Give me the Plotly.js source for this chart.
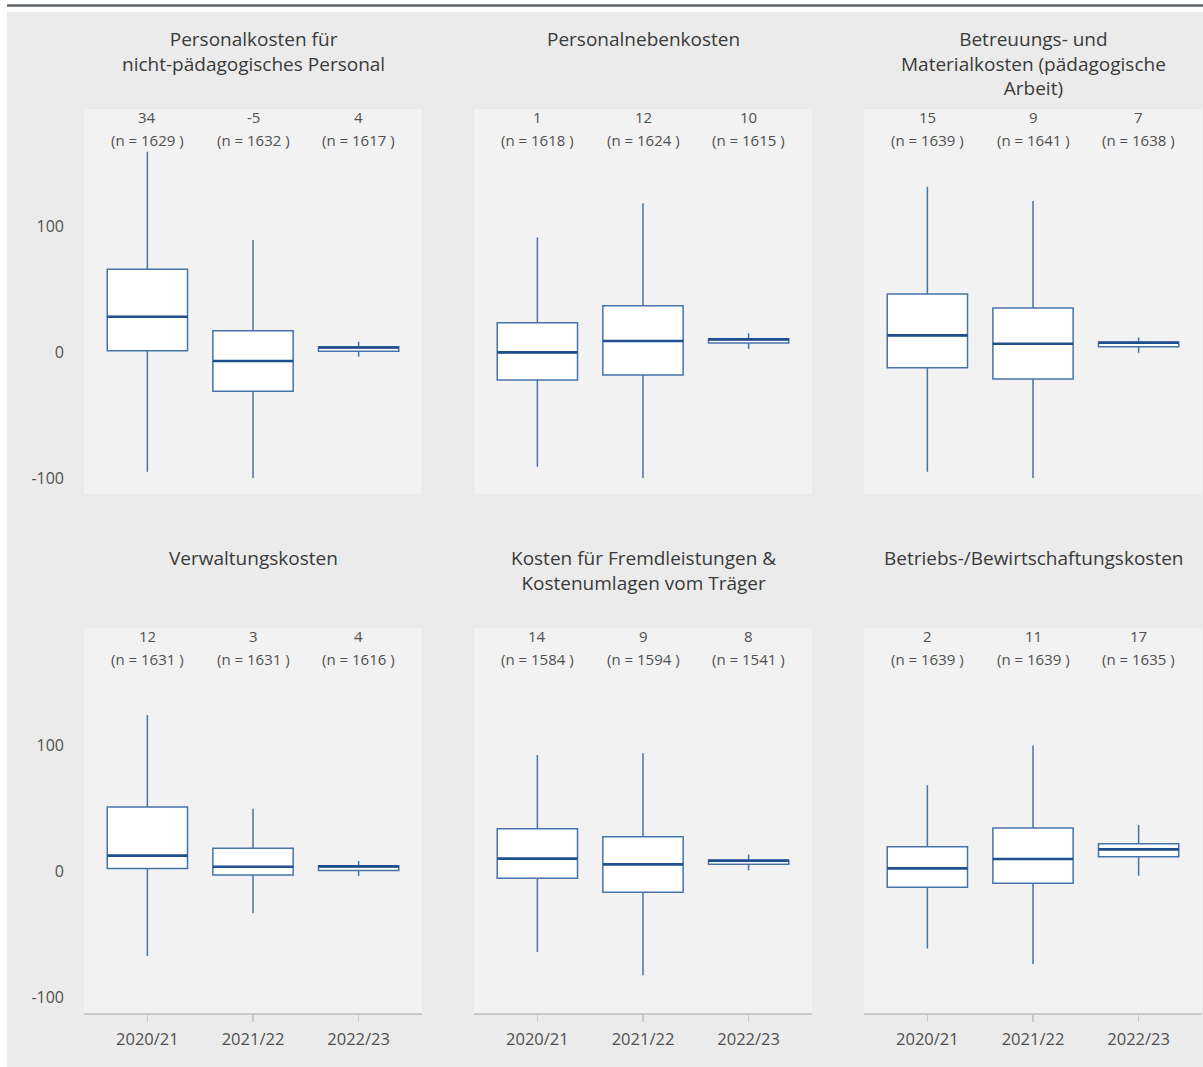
<!DOCTYPE html>
<html>
<head>
<meta charset="utf-8">
<script src="https://cdn.plot.ly/plotly-3.0.1.min.js"></script>
<style>
  html, body { margin: 0; padding: 0; background: #ffffff; }
  #chart { width: 1203px; height: 1067px; }
</style>
</head>
<body>
<div id="chart"></div>
<script>
// Year categories on the x axis
const years = ['2020/21', '2021/22', '2022/23'];

// Panel headings (row by row)
const panelTitles = [
  'Personalkosten für<br>nicht-pädagogisches Personal',
  'Personalnebenkosten',
  'Betreuungs- und<br>Materialkosten (pädagogische<br>Arbeit)',
  'Verwaltungskosten',
  'Kosten für Fremdleistungen &<br>Kostenumlagen vom Träger',
  'Betriebs-/Bewirtschaftungskosten'
];

// Box statistics per panel, one value per year
const upperWhisker = [
  [159.0, 88.9, 8.2],
  [91.0, 118.0, 14.8],
  [131.2, 119.8, 11.6],
  [123.8, 49.5, 7.9],
  [92.1, 93.4, 13.2],
  [68.0, 99.7, 36.5]
];
const q3Vals = [
  [65.6, 16.9, 4.2],
  [23.3, 36.8, 10.6],
  [46.0, 34.9, 7.9],
  [50.8, 18.0, 4.2],
  [33.6, 27.2, 8.7],
  [19.3, 34.1, 21.7]
];
const medianVals = [
  [28.0, -7.1, 3.6],
  [-0.3, 8.7, 10.0],
  [13.2, 6.6, 7.4],
  [12.2, 3.4, 3.7],
  [9.8, 5.3, 8.2],
  [2.1, 9.5, 17.2]
];
const q1Vals = [
  [1.0, -31.2, 0.6],
  [-22.2, -18.3, 7.1],
  [-12.4, -21.4, 4.2],
  [1.9, -3.2, 0.5],
  [-5.8, -16.9, 5.3],
  [-12.9, -9.8, 11.4]
];
const lowerWhisker = [
  [-95.0, -100.0, -3.7],
  [-91.0, -100.0, 2.4],
  [-95.0, -100.0, -0.5],
  [-67.5, -33.6, -4.0],
  [-64.3, -82.8, 0.5],
  [-61.6, -73.8, -3.7]
];

// Mean change and sample size shown above each box
const meanLabels = [
  [34, -5, 4],
  [1, 12, 10],
  [15, 9, 7],
  [12, 3, 4],
  [14, 9, 8],
  [2, 11, 17]
];
const sampleSizes = [
  [1629, 1632, 1617],
  [1618, 1624, 1615],
  [1639, 1641, 1638],
  [1631, 1631, 1616],
  [1584, 1594, 1541],
  [1639, 1639, 1635]
];

const yTicks = [-100, 0, 100];

// ---- page geometry (pixels) ----
const W = 1203, H = 1067;
const colLeft = [84, 474, 864];
const panelW = 338;
const rowTop = [109, 628];
const rowBottom = [494, 1013];
const titleTop = [24, 543];
const yRange = [-112.7, 192.9];
const boxWidth = 0.76;

const FONT = 'Open Sans, Noto Sans, sans-serif';
const boxLine = '#4673a9';
const medianLine = '#1f4f8e';

const positions = years.map((_, i) => i);

const traces = [];
const annotations = [];
const layout = {
  width: W,
  height: H,
  margin: { l: 0, r: 0, t: 0, b: 0 },
  paper_bgcolor: '#ebebeb',
  plot_bgcolor: '#f2f2f2',
  showlegend: false,
  font: { family: FONT, color: '#505050' },
  shapes: [
    // white page margins and top rule
    { type: 'rect', xref: 'paper', yref: 'paper', x0: 0, x1: 7 / W, y0: 0, y1: 1,
      fillcolor: '#ffffff', line: { width: 0 }, layer: 'below' },
    { type: 'rect', xref: 'paper', yref: 'paper', x0: 0, x1: 1, y0: 1 - 12 / H, y1: 1,
      fillcolor: '#ffffff', line: { width: 0 }, layer: 'below' },
    { type: 'line', xref: 'paper', yref: 'paper', x0: 7 / W, x1: 1, y0: 1 - 5.5 / H, y1: 1 - 5.5 / H,
      line: { color: '#5d6168', width: 2.5 } }
  ],
  annotations: annotations
};

for (let p = 0; p < 6; p++) {
  const r = Math.floor(p / 3), c = p % 3;
  const k = p + 1;
  const xa = 'x' + (k === 1 ? '' : k);
  const ya = 'y' + (k === 1 ? '' : k);
  const xKey = 'xaxis' + (k === 1 ? '' : k);
  const yKey = 'yaxis' + (k === 1 ? '' : k);

  layout[xKey] = {
    domain: [colLeft[c] / W, (colLeft[c] + panelW) / W],
    range: [-0.6, 2.6],
    tickvals: positions,
    ticktext: years,
    showticklabels: r === 1,
    showline: r === 1,
    linecolor: '#c9c9c9',
    linewidth: 1.5,
    ticks: r === 1 ? 'outside' : '',
    ticklen: 7,
    tickwidth: 1.2,
    tickcolor: '#c9c9c9',
    ticklabelstandoff: 4,
    showgrid: false,
    zeroline: false,
    fixedrange: true,
    anchor: ya,
    tickfont: { family: FONT, size: 16.5, color: '#505050' }
  };
  layout[yKey] = {
    domain: [1 - rowBottom[r] / H, 1 - rowTop[r] / H],
    range: yRange,
    tickvals: yTicks,
    ticktext: yTicks.map(String),
    showticklabels: c === 0,
    ticks: '',
    ticklabelstandoff: 19,
    showgrid: false,
    zeroline: false,
    showline: false,
    fixedrange: true,
    anchor: xa,
    tickfont: { family: FONT, size: 16, color: '#505050' }
  };

  // boxes from precomputed quartiles and whisker ends
  traces.push({
    type: 'box',
    xaxis: xa, yaxis: ya,
    x: positions,
    q1: q1Vals[p],
    median: medianVals[p],
    q3: q3Vals[p],
    lowerfence: lowerWhisker[p],
    upperfence: upperWhisker[p],
    width: boxWidth,
    whiskerwidth: 0,
    boxpoints: false,
    fillcolor: '#ffffff',
    line: { color: boxLine, width: 1.5 },
    hoverinfo: 'skip'
  });

  // emphasised median bars
  const mx = [], my = [];
  positions.forEach((pos, i) => {
    mx.push(pos - boxWidth / 2, pos + boxWidth / 2, null);
    my.push(medianVals[p][i], medianVals[p][i], null);
  });
  traces.push({
    type: 'scatter', mode: 'lines',
    xaxis: xa, yaxis: ya,
    x: mx, y: my,
    line: { color: medianLine, width: 2.6 },
    hoverinfo: 'skip'
  });

  // panel heading
  annotations.push({
    xref: 'paper', yref: 'paper',
    x: (colLeft[c] + panelW / 2) / W,
    y: 1 - titleTop[r] / H,
    xanchor: 'center', yanchor: 'top',
    text: panelTitles[p],
    showarrow: false,
    align: 'center',
    font: { family: FONT, size: 19, color: '#3a3a3a' }
  });

  // mean and n above each box
  positions.forEach((pos, i) => {
    annotations.push({
      xref: xa, yref: ya + ' domain',
      x: pos, y: 1,
      xanchor: 'center', yanchor: 'middle',
      yshift: -8,
      text: String(meanLabels[p][i]),
      showarrow: false,
      font: { family: FONT, size: 15, color: '#505050' }
    });
    annotations.push({
      xref: xa, yref: ya + ' domain',
      x: pos, y: 1,
      xanchor: 'center', yanchor: 'middle',
      yshift: -31,
      text: '(n = ' + sampleSizes[p][i] + ' )',
      showarrow: false,
      font: { family: FONT, size: 15, color: '#505050' }
    });
  });
}

Plotly.newPlot('chart', traces, layout, { displayModeBar: false, staticPlot: true });
</script>
</body>
</html>
